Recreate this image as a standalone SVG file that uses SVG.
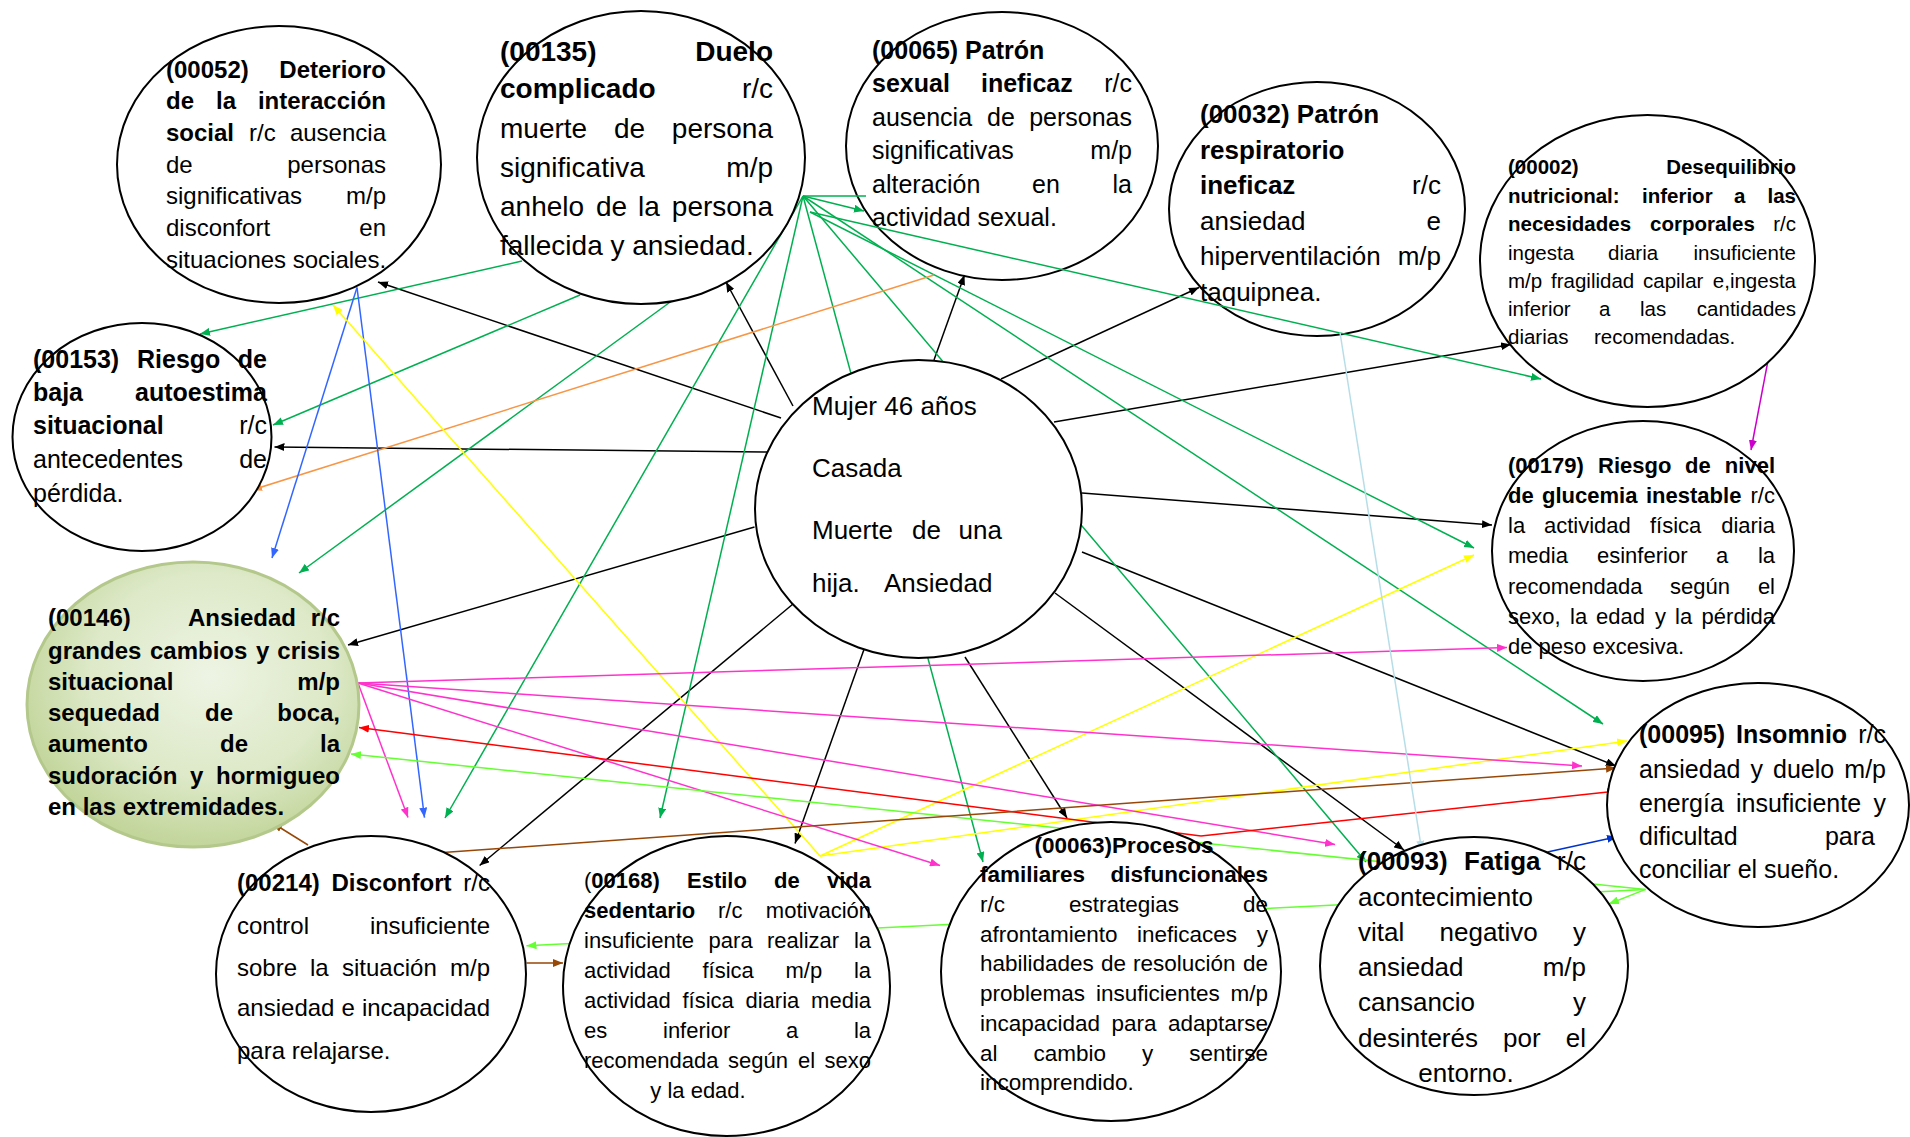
<svg xmlns="http://www.w3.org/2000/svg" width="1910" height="1137" viewBox="0 0 1910 1137">
<style>
text{font-family:"Liberation Sans",Arial,sans-serif;fill:#000}
.b{font-weight:bold}
.e{text-anchor:end}
.m{text-anchor:middle}
.nd{fill:#fff;stroke:#000;stroke-width:2}
line{stroke-width:1.5;fill:none}
.k{stroke:#000;marker-end:url(#ak)}
.g{stroke:#00b050;marker-end:url(#ag)}
.g0{stroke:#00b050}
.o{stroke:#f79646;marker-end:url(#ao)}
.bl{stroke:#3366ff;marker-end:url(#ab)}
.y{stroke:#ffff00;marker-end:url(#ay)}
.mg{stroke:#ff33cc;marker-end:url(#am)}
.r{stroke:#ff0000;marker-end:url(#ar)}
.lg{stroke:#66ff33;marker-end:url(#al)}
.br{stroke:#974706;marker-end:url(#an)}
.db{stroke:#0033cc;marker-end:url(#ad)}
.lb{stroke:#b7dee8;marker-end:url(#ac)}
.p{stroke:#cc00cc;marker-end:url(#ap)}
</style>
<defs>
<marker id="ak" viewBox="0 0 10 8" refX="10" refY="4" markerWidth="10" markerHeight="8" markerUnits="userSpaceOnUse" orient="auto"><path d="M0,0L10,4L0,8z" fill="#000"/></marker>
<marker id="ag" viewBox="0 0 10 8" refX="10" refY="4" markerWidth="10" markerHeight="8" markerUnits="userSpaceOnUse" orient="auto"><path d="M0,0L10,4L0,8z" fill="#00b050"/></marker>
<marker id="ao" viewBox="0 0 10 8" refX="10" refY="4" markerWidth="10" markerHeight="8" markerUnits="userSpaceOnUse" orient="auto"><path d="M0,0L10,4L0,8z" fill="#f79646"/></marker>
<marker id="ab" viewBox="0 0 10 8" refX="10" refY="4" markerWidth="10" markerHeight="8" markerUnits="userSpaceOnUse" orient="auto"><path d="M0,0L10,4L0,8z" fill="#3366ff"/></marker>
<marker id="ay" viewBox="0 0 10 8" refX="10" refY="4" markerWidth="10" markerHeight="8" markerUnits="userSpaceOnUse" orient="auto"><path d="M0,0L10,4L0,8z" fill="#ffff00"/></marker>
<marker id="am" viewBox="0 0 10 8" refX="10" refY="4" markerWidth="10" markerHeight="8" markerUnits="userSpaceOnUse" orient="auto"><path d="M0,0L10,4L0,8z" fill="#ff33cc"/></marker>
<marker id="ar" viewBox="0 0 10 8" refX="10" refY="4" markerWidth="10" markerHeight="8" markerUnits="userSpaceOnUse" orient="auto"><path d="M0,0L10,4L0,8z" fill="#ff0000"/></marker>
<marker id="al" viewBox="0 0 10 8" refX="10" refY="4" markerWidth="10" markerHeight="8" markerUnits="userSpaceOnUse" orient="auto"><path d="M0,0L10,4L0,8z" fill="#66ff33"/></marker>
<marker id="an" viewBox="0 0 10 8" refX="10" refY="4" markerWidth="10" markerHeight="8" markerUnits="userSpaceOnUse" orient="auto"><path d="M0,0L10,4L0,8z" fill="#974706"/></marker>
<marker id="ad" viewBox="0 0 10 8" refX="10" refY="4" markerWidth="10" markerHeight="8" markerUnits="userSpaceOnUse" orient="auto"><path d="M0,0L10,4L0,8z" fill="#0033cc"/></marker>
<marker id="ac" viewBox="0 0 10 8" refX="10" refY="4" markerWidth="10" markerHeight="8" markerUnits="userSpaceOnUse" orient="auto"><path d="M0,0L10,4L0,8z" fill="#b7dee8"/></marker>
<marker id="ap" viewBox="0 0 10 8" refX="10" refY="4" markerWidth="10" markerHeight="8" markerUnits="userSpaceOnUse" orient="auto"><path d="M0,0L10,4L0,8z" fill="#cc00cc"/></marker>
<radialGradient id="gr" cx="55%" cy="40%" r="60%">
<stop offset="0" stop-color="#eef4e4"/>
<stop offset="0.6" stop-color="#dde9c8"/>
<stop offset="1" stop-color="#c2d59a"/>
</radialGradient>
</defs>
<rect width="1910" height="1137" fill="#fff"/>

<g id="n00065" font-size="25">
<ellipse class="nd" cx="1002" cy="146" rx="156" ry="134"/>
<text x="872" y="59" class="b">(00065) Patrón</text>
<text x="872" y="92" class="b">sexual</text><text x="981" y="92" class="b">ineficaz</text><text x="1132" y="92" class="e">r/c</text>
<text x="872" y="126">ausencia</text><text x="987" y="126">de</text><text x="1132" y="126" class="e">personas</text>
<text x="872" y="159">significativas</text><text x="1132" y="159" class="e">m/p</text>
<text x="872" y="193">alteración</text><text x="1032" y="193">en</text><text x="1132" y="193" class="e">la</text>
<text x="872" y="226">actividad sexual.</text>
</g>
<g id="n00032" font-size="26">
<ellipse class="nd" cx="1317" cy="209" rx="148" ry="127"/>
<text x="1200" y="123" class="b">(00032) Patrón</text>
<text x="1200" y="158.5" class="b">respiratorio</text>
<text x="1200" y="194" class="b">ineficaz</text><text x="1441" y="194" class="e">r/c</text>
<text x="1200" y="229.5">ansiedad</text><text x="1441" y="229.5" class="e">e</text>
<text x="1200" y="265">hiperventilación</text><text x="1441" y="265" class="e">m/p</text>
<text x="1200" y="300.5">taquipnea.</text>
</g>
<g id="n00179" font-size="22">
<ellipse class="nd" cx="1643" cy="551" rx="151" ry="130"/>
<text x="1508" y="473" class="b">(00179)</text><text x="1598" y="473" class="b">Riesgo</text><text x="1685" y="473" class="b">de</text><text x="1775" y="473" class="b e">nivel</text>
<text x="1508" y="503" class="b">de</text><text x="1542" y="503" class="b">glucemia</text><text x="1646" y="503" class="b">inestable</text><text x="1775" y="503" class="e">r/c</text>
<text x="1508" y="533">la</text><text x="1544" y="533">actividad</text><text x="1650" y="533">física</text><text x="1775" y="533" class="e">diaria</text>
<text x="1508" y="563">media</text><text x="1597" y="563">esinferior</text><text x="1716" y="563">a</text><text x="1775" y="563" class="e">la</text>
<text x="1508" y="594">recomendada</text><text x="1670" y="594">según</text><text x="1775" y="594" class="e">el</text>
<text x="1508" y="624">sexo,</text><text x="1570" y="624">la</text><text x="1596" y="624">edad</text><text x="1655" y="624">y</text><text x="1675" y="624">la</text><text x="1775" y="624" class="e">pérdida</text>
<text x="1508" y="654">de peso excesiva.</text>
</g>

<g id="connectors">
<line class="k" x1="781" y1="418" x2="378" y2="282"/>
<line class="k" x1="793" y1="406" x2="726" y2="282"/>
<line class="k" x1="934" y1="360" x2="964.5" y2="275"/>
<line class="k" x1="1001" y1="379" x2="1199" y2="287.5"/>
<line class="k" x1="1054" y1="422" x2="1511" y2="344.6"/>
<line class="k" x1="1082" y1="493" x2="1492" y2="525"/>
<line class="k" x1="1082" y1="552" x2="1616" y2="766"/>
<line class="k" x1="1055" y1="593" x2="1404" y2="850"/>
<line class="k" x1="965" y1="657" x2="1067" y2="818"/>
<line class="k" x1="864.5" y1="648" x2="795" y2="843.4"/>
<line class="k" x1="793" y1="604" x2="479.6" y2="865.5"/>
<line class="k" x1="754.5" y1="527" x2="348" y2="645"/>
<line class="k" x1="768" y1="452" x2="274.5" y2="447"/>
<line class="g" x1="522" y1="261" x2="200" y2="334"/>
<line class="g" x1="580" y1="295" x2="273" y2="425"/>
<line class="g" x1="673" y1="300" x2="299" y2="573"/>
<line class="g" x1="803" y1="196" x2="445" y2="818"/>
<line class="g" x1="803" y1="196" x2="660" y2="818"/>
<line class="g" x1="803" y1="196" x2="983" y2="862"/>
<line class="g" x1="803" y1="196" x2="1366" y2="862"/>
<line class="g0" x1="803" y1="196" x2="866" y2="196"/>
<line class="g" x1="803" y1="196" x2="864" y2="211"/>
<line class="g" x1="810" y1="212" x2="1541" y2="379"/>
<line class="g" x1="810" y1="212" x2="1474" y2="548"/>
<line class="g" x1="803" y1="196" x2="1603" y2="724"/>
<line class="o" x1="934" y1="275" x2="252" y2="490"/>
<line class="bl" x1="357" y1="287.5" x2="272" y2="558"/>
<line class="bl" x1="357" y1="287.5" x2="424.5" y2="817.6"/>
<line class="y" x1="820" y1="856" x2="333" y2="305"/>
<line class="y" x1="820" y1="856" x2="1474" y2="555"/>
<line class="y" x1="820" y1="856" x2="1627" y2="741"/>
<line class="mg" x1="358" y1="683" x2="408" y2="817.6"/>
<line class="mg" x1="358" y1="683" x2="1507" y2="647.6"/>
<line class="mg" x1="358" y1="683" x2="1582" y2="766"/>
<line class="mg" x1="358" y1="683" x2="1335" y2="844.5"/>
<line class="mg" x1="358" y1="683" x2="940" y2="865.5"/>
<line class="r" x1="1201" y1="836" x2="359" y2="727.5"/>
<line class="r" x1="1201" y1="836" x2="1617" y2="791"/>
<line class="lg" x1="1645.5" y1="889.4" x2="1608.8" y2="904"/>
<line class="lg" x1="1645.5" y1="889.4" x2="351" y2="754"/>
<line class="lg" x1="1645.5" y1="889.4" x2="526.5" y2="945.7"/>
<line class="br" x1="443" y1="852.6" x2="1616" y2="768"/>
<line class="br" x1="308" y1="845" x2="272.6" y2="823"/>
<line class="br" x1="526.5" y1="963" x2="563" y2="963"/>
<line class="db" x1="1547.5" y1="852" x2="1617" y2="836.8"/>
<line class="lb" x1="1340" y1="332.5" x2="1421.8" y2="850.8"/>
<line class="p" x1="1768" y1="360.7" x2="1751" y2="450"/>
</g>

<g id="center" font-size="26">
<ellipse class="nd" cx="918.5" cy="509" rx="163.5" ry="149"/>
<text x="812" y="415">Mujer 46 años</text>
<text x="812" y="477">Casada</text>
<text x="812" y="539">Muerte</text><text x="912" y="539">de</text><text x="1002" y="539" class="e">una</text>
<text x="812" y="592">hija.</text><text x="884" y="592">Ansiedad</text>
</g>

<g id="n00052" font-size="24">
<ellipse class="nd" cx="279" cy="164.5" rx="162" ry="138.5"/>
<text x="166" y="77.5" class="b">(00052)</text><text x="386" y="77.5" class="b e">Deterioro</text>
<text x="166" y="109" class="b">de</text><text x="216" y="109" class="b">la</text><text x="386" y="109" class="b e">interacción</text>
<text x="166" y="141" class="b">social</text><text x="249" y="141">r/c</text><text x="386" y="141" class="e">ausencia</text>
<text x="166" y="173">de</text><text x="386" y="173" class="e">personas</text>
<text x="166" y="204">significativas</text><text x="386" y="204" class="e">m/p</text>
<text x="166" y="236">disconfort</text><text x="386" y="236" class="e">en</text>
<text x="166" y="268">situaciones sociales.</text>
</g>

<g id="n00135" font-size="28">
<ellipse class="nd" cx="641" cy="157.5" rx="164" ry="146.5"/>
<text x="500" y="61" class="b">(00135)</text><text x="773" y="61" class="b e">Duelo</text>
<text x="500" y="98" class="b">complicado</text><text x="773" y="98" class="e">r/c</text>
<text x="500" y="137.5">muerte</text><text x="614" y="137.5">de</text><text x="773" y="137.5" class="e">persona</text>
<text x="500" y="177">significativa</text><text x="773" y="177" class="e">m/p</text>
<text x="500" y="216">anhelo</text><text x="596" y="216">de</text><text x="638" y="216">la</text><text x="773" y="216" class="e">persona</text>
<text x="500" y="255">fallecida y ansiedad.</text>
</g>

<g id="n00002" font-size="20.5">
<ellipse class="nd" cx="1647.5" cy="261" rx="167.5" ry="146"/>
<text x="1508" y="174" class="b">(00002)</text><text x="1796" y="174" class="b e">Desequilibrio</text>
<text x="1508" y="203" class="b">nutricional:</text><text x="1642" y="203" class="b">inferior</text><text x="1734" y="203" class="b">a</text><text x="1796" y="203" class="b e">las</text>
<text x="1508" y="231.4" class="b">necesidades</text><text x="1650" y="231.4" class="b">corporales</text><text x="1796" y="231.4" class="e">r/c</text>
<text x="1508" y="259.6">ingesta</text><text x="1608" y="259.6">diaria</text><text x="1796" y="259.6" class="e">insuficiente</text>
<text x="1508" y="287.5">m/p</text><text x="1551" y="287.5">fragilidad</text><text x="1643" y="287.5">capilar</text><text x="1796" y="287.5" class="e">e,ingesta</text>
<text x="1508" y="316">inferior</text><text x="1599" y="316">a</text><text x="1640" y="316">las</text><text x="1796" y="316" class="e">cantidades</text>
<text x="1508" y="344">diarias</text><text x="1594" y="344">recomendadas.</text>
</g>

<g id="n00153" font-size="25">
<ellipse class="nd" cx="142" cy="437" rx="129.5" ry="114"/>
<text x="33" y="368" class="b">(00153)</text><text x="137" y="368" class="b">Riesgo</text><text x="267" y="368" class="b e">de</text>
<text x="33" y="401" class="b">baja</text><text x="267" y="401" class="b e">autoestima</text>
<text x="33" y="434" class="b">situacional</text><text x="267" y="434" class="e">r/c</text>
<text x="33" y="468">antecedentes</text><text x="267" y="468" class="e">de</text>
<text x="33" y="502">pérdida.</text>
</g>

<g id="n00146" font-size="24" font-weight="bold">
<ellipse cx="193" cy="704.5" rx="166" ry="142.5" fill="url(#gr)" stroke="#b4c88c" stroke-width="3"/>
<text x="48" y="626" class="b">(00146)</text><text x="188" y="626" class="b">Ansiedad</text><text x="340" y="626" class="b e">r/c</text>
<text x="48" y="658.6" class="b">grandes</text><text x="150" y="658.6" class="b">cambios</text><text x="256" y="658.6" class="b">y</text><text x="340" y="658.6" class="b e">crisis</text>
<text x="48" y="689.6" class="b">situacional</text><text x="340" y="689.6" class="b e">m/p</text>
<text x="48" y="721" class="b">sequedad</text><text x="205" y="721" class="b">de</text><text x="340" y="721" class="b e">boca,</text>
<text x="48" y="752" class="b">aumento</text><text x="220" y="752" class="b">de</text><text x="340" y="752" class="b e">la</text>
<text x="48" y="784" class="b">sudoración</text><text x="190" y="784" class="b">y</text><text x="340" y="784" class="b e">hormigueo</text>
<text x="48" y="815" class="b">en las extremidades.</text>
</g>

<g id="n00214" font-size="24">
<ellipse class="nd" cx="371" cy="974" rx="155" ry="138"/>
<text x="237" y="891" class="b">(00214)</text><text x="331.5" y="891" class="b">Disconfort</text><text x="490" y="891" class="e">r/c</text>
<text x="237" y="933.6">control</text><text x="490" y="933.6" class="e">insuficiente</text>
<text x="237" y="976">sobre</text><text x="310" y="976">la</text><text x="342" y="976">situación</text><text x="490" y="976" class="e">m/p</text>
<text x="237" y="1016">ansiedad</text><text x="341.5" y="1016">e</text><text x="490" y="1016" class="e">incapacidad</text>
<text x="237" y="1058.7">para relajarse.</text>
</g>

<g id="n00168" font-size="22">
<ellipse class="nd" cx="726.5" cy="986" rx="163.5" ry="150"/>
<text x="584" y="887.6">(<tspan class="b">00168)</tspan></text><text x="687" y="887.6" class="b">Estilo</text><text x="774" y="887.6" class="b">de</text><text x="871" y="887.6" class="b e">vida</text>
<text x="584" y="917.7" class="b">sedentario</text><text x="718" y="917.7">r/c</text><text x="871" y="917.7" class="e">motivación</text>
<text x="584" y="947.8">insuficiente</text><text x="708.6" y="947.8">para</text><text x="767" y="947.8">realizar</text><text x="871" y="947.8" class="e">la</text>
<text x="584" y="977.9">actividad</text><text x="702.5" y="977.9">física</text><text x="785.5" y="977.9">m/p</text><text x="871" y="977.9" class="e">la</text>
<text x="584" y="1008">actividad</text><text x="682.5" y="1008">física</text><text x="745.5" y="1008">diaria</text><text x="871" y="1008" class="e">media</text>
<text x="584" y="1038.1">es</text><text x="663" y="1038.1">inferior</text><text x="786" y="1038.1">a</text><text x="871" y="1038.1" class="e">la</text>
<text x="584" y="1068.2">recomendada</text><text x="728" y="1068.2">según</text><text x="798" y="1068.2">el</text><text x="871" y="1068.2" class="e">sexo</text>
<text x="698" y="1098.3" class="m">y la edad.</text>
</g>

<g id="n00063" font-size="22.5">
<ellipse class="nd" cx="1111" cy="971.5" rx="170" ry="149.5"/>
<text x="1124" y="852.6" class="b m">(00063)Procesos</text>
<text x="980" y="882.3" class="b">familiares</text><text x="1268" y="882.3" class="b e">disfuncionales</text>
<text x="980" y="912">r/c</text><text x="1069" y="912">estrategias</text><text x="1268" y="912" class="e">de</text>
<text x="980" y="941.7">afrontamiento</text><text x="1137" y="941.7">ineficaces</text><text x="1268" y="941.7" class="e">y</text>
<text x="980" y="971.4">habilidades</text><text x="1101" y="971.4">de</text><text x="1133" y="971.4">resolución</text><text x="1268" y="971.4" class="e">de</text>
<text x="980" y="1001.1">problemas</text><text x="1096" y="1001.1">insuficientes</text><text x="1268" y="1001.1" class="e">m/p</text>
<text x="980" y="1030.8">incapacidad</text><text x="1111.5" y="1030.8">para</text><text x="1268" y="1030.8" class="e">adaptarse</text>
<text x="980" y="1060.5">al</text><text x="1033.5" y="1060.5">cambio</text><text x="1142" y="1060.5">y</text><text x="1268" y="1060.5" class="e">sentirse</text>
<text x="980" y="1090.2">incomprendido.</text>
</g>

<g id="n00093" font-size="26">
<ellipse class="nd" cx="1474" cy="966" rx="154" ry="129"/>
<text x="1358" y="870" class="b">(00093)</text><text x="1464" y="870" class="b">Fatiga</text><text x="1586" y="870" class="e">r/c</text>
<text x="1358" y="906">acontecimiento</text>
<text x="1358" y="941">vital</text><text x="1439.5" y="941">negativo</text><text x="1586" y="941" class="e">y</text>
<text x="1358" y="976">ansiedad</text><text x="1586" y="976" class="e">m/p</text>
<text x="1358" y="1011">cansancio</text><text x="1586" y="1011" class="e">y</text>
<text x="1358" y="1046.6">desinterés</text><text x="1503" y="1046.6">por</text><text x="1586" y="1046.6" class="e">el</text>
<text x="1466" y="1082" class="m">entorno.</text>
</g>

<g id="n00095" font-size="25">
<ellipse class="nd" cx="1758" cy="805" rx="151" ry="122"/>
<text x="1639" y="743" class="b">(00095)</text><text x="1736" y="743" class="b">Insomnio</text><text x="1886" y="743" class="e">r/c</text>
<text x="1639" y="778">ansiedad</text><text x="1750.5" y="778">y</text><text x="1773" y="778">duelo</text><text x="1886" y="778" class="e">m/p</text>
<text x="1639" y="812">energía</text><text x="1736" y="812">insuficiente</text><text x="1886" y="812" class="e">y</text>
<text x="1639" y="845">dificultad</text><text x="1875" y="845" class="e">para</text>
<text x="1639" y="878">conciliar el sueño.</text>
</g>
</svg>
